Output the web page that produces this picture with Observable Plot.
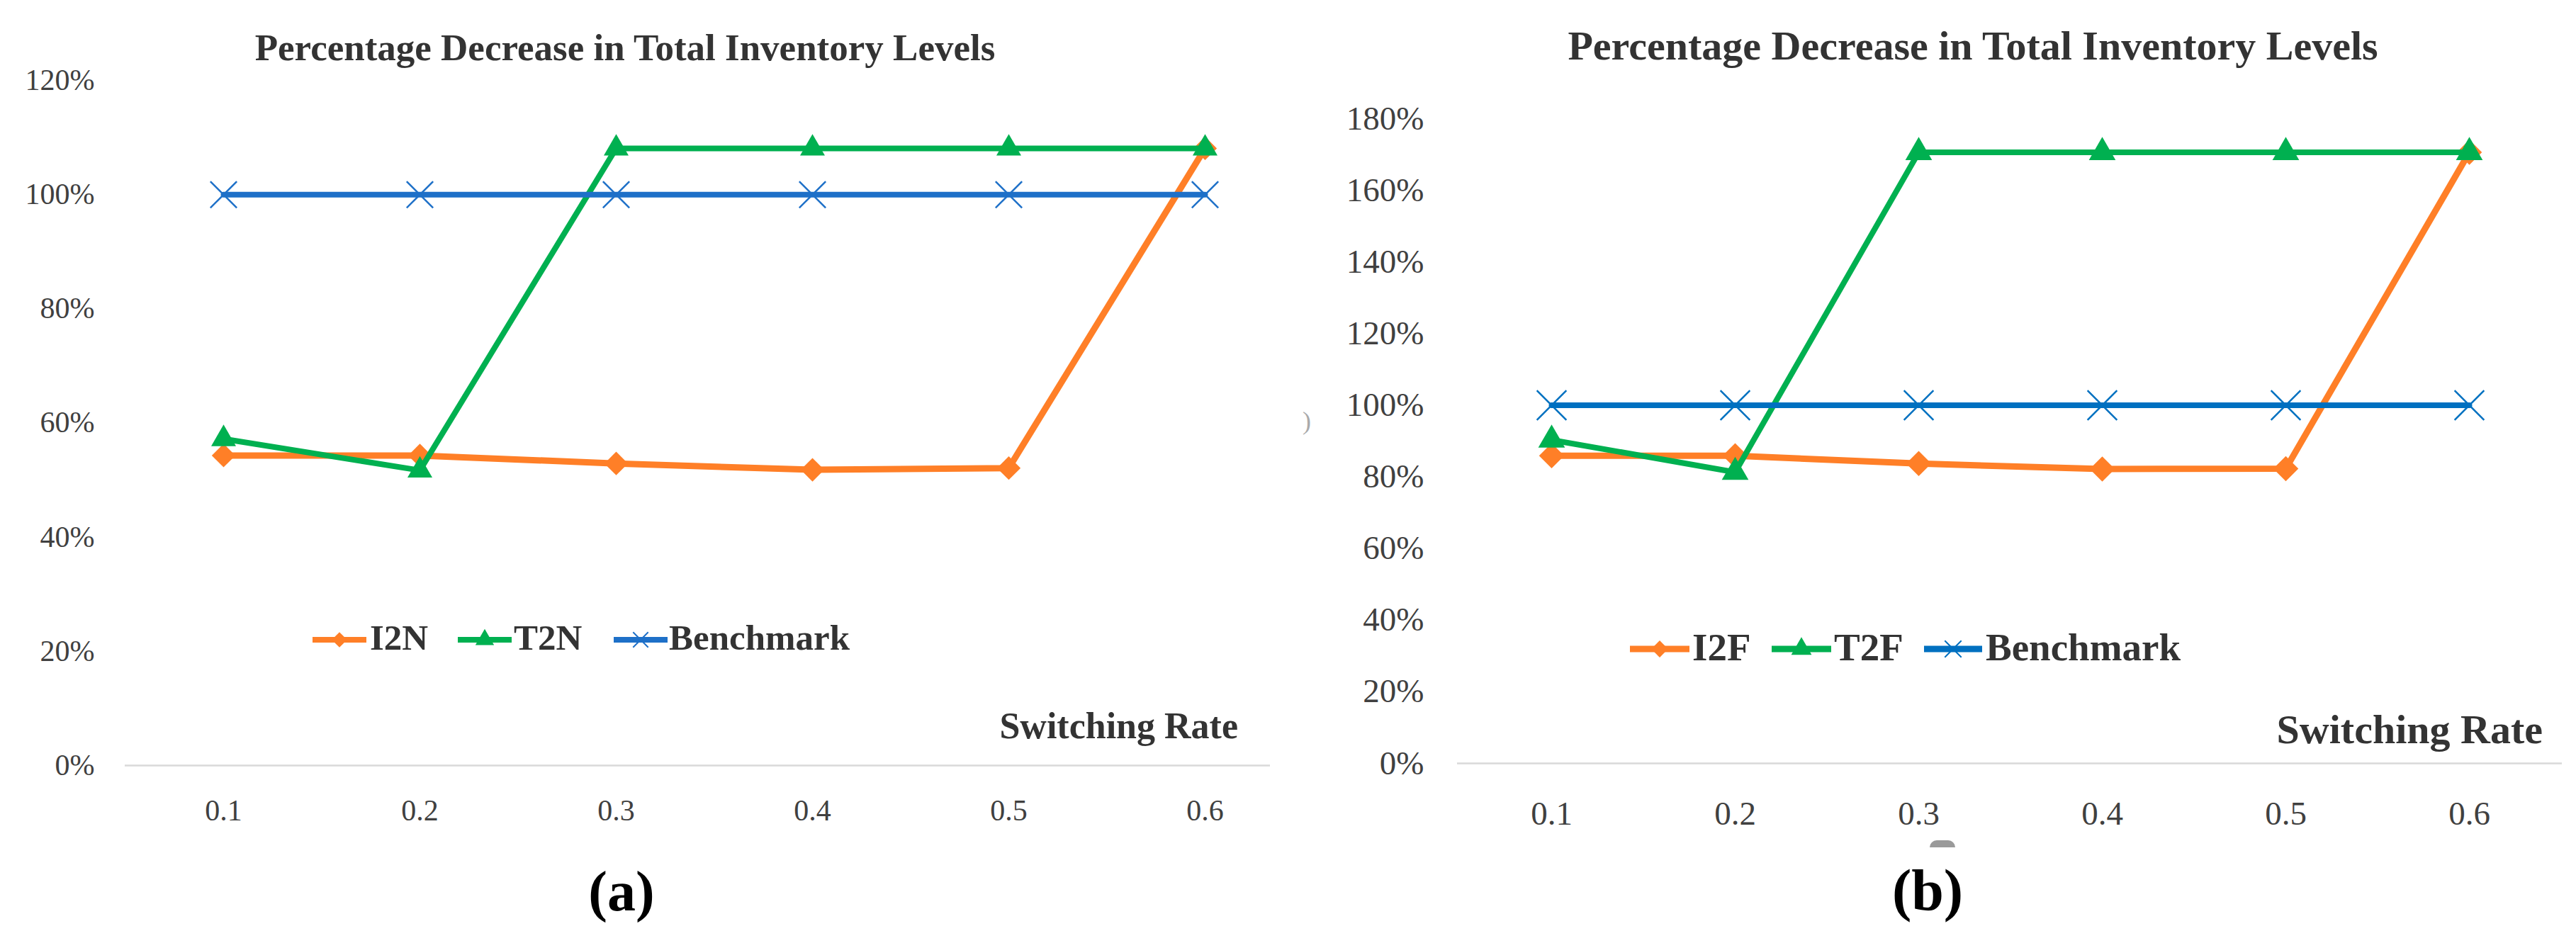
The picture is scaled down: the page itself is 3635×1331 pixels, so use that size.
<!DOCTYPE html>
<html><head><meta charset="utf-8">
<script src="https://cdn.jsdelivr.net/npm/d3@7"></script>
<script src="https://cdn.jsdelivr.net/npm/@observablehq/plot@0.6"></script>
<style>
html,body{margin:0;padding:0;background:#fff;}
#root{position:relative;width:3635px;height:1331px;overflow:hidden;font-family:"Liberation Serif",serif;background:#fff;}
.abs{position:absolute;white-space:nowrap;line-height:1;}
.panel{position:absolute;top:0;}
</style></head><body><div id="root"></div>
<script>
// ---------- data ----------
const rates = ["0.1","0.2","0.3","0.4","0.5","0.6"];
const i2n = [0.543,0.543,0.529,0.518,0.521,1.081];
const t2n = [0.572,0.517,1.081,1.081,1.081,1.081];
const benchA = [1,1,1,1,1,1];
const i2f = [0.859,0.859,0.837,0.822,0.823,1.706];
const t2f = [0.903,0.813,1.706,1.706,1.706,1.706];
const benchB = [1,1,1,1,1,1];
const yTicksA = [0,0.2,0.4,0.6,0.8,1.0,1.2];
const yTicksB = [0,0.2,0.4,0.6,0.8,1.0,1.2,1.4,1.6,1.8];
const seriesA = ["I2N","T2N","Benchmark"];
const seriesB = ["I2F","T2F","Benchmark"];
const titleText = "Percentage Decrease in Total Inventory Levels";
const xLabel = "Switching Rate";
const panelLabels = ["(a)","(b)"];

// ---------- styles ----------
const ORANGE = "#FF7F27", GREEN = "#00B050";
const symbols = ["diamond2","triangle","times"];
const d3symbols = [d3.symbolDiamond2, d3.symbolTriangle, d3.symbolTimes];

const root = document.getElementById("root");

function addText(txt, opts){
  const d = document.createElement("div");
  d.className = "abs";
  d.textContent = txt;
  const fs = opts.size;
  d.style.fontSize = fs + "px";
  d.style.fontWeight = opts.bold ? "bold" : "normal";
  d.style.color = opts.color || "#333";
  d.style.top = (opts.baseline - 0.8375*fs) + "px";
  if (opts.anchor === "middle") { d.style.left = (opts.x - 1500) + "px"; d.style.width = "3000px"; d.style.textAlign = "center"; }
  else if (opts.anchor === "end") { d.style.left = (opts.x - 3000) + "px"; d.style.width = "3000px"; d.style.textAlign = "right"; }
  else d.style.left = opts.x + "px";
  root.appendChild(d);
  return d;
}

function legendSwatch(x1, x2, cy, color, k, area, lw){
  const w = x2 - x1, h = 60;
  const svg = d3.create("svg").attr("width", w).attr("height", h)
    .style("position","absolute").style("left", x1+"px").style("top", (cy-h/2)+"px").style("overflow","visible");
  svg.append("line").attr("x1",0).attr("x2",w).attr("y1",h/2).attr("y2",h/2)
    .attr("stroke",color).attr("stroke-width",lw);
  const p = svg.append("path").attr("transform",`translate(${w/2},${h/2})`)
    .attr("d", d3.symbol(d3symbols[k], area)());
  if (k === 2) p.attr("fill","none").attr("stroke",color).attr("stroke-width",2);
  else p.attr("fill",color);
  root.appendChild(svg.node());
}

function panel(cfg){
  const rows = [];
  cfg.series.forEach((s,k)=> cfg.values[k].forEach((v,i)=> rows.push({series:s, rate:rates[i], value:v})));
  const marks = [
    Plot.ruleY([0], {stroke:"#d9d9d9", strokeWidth:2.5}),
    Plot.axisY({ticks: cfg.yTicks, tickFormat: d3.format(".0%"), tickSize:0, tickPadding: cfg.yPad,
      fontSize: cfg.tickFont, fill:"#404040", label:null}),
    Plot.axisX({tickSize:0, tickPadding: cfg.xPad, fontSize: cfg.tickFont, fill:"#404040", label:null})
  ];
  cfg.series.forEach((s,k)=>{
    const d = rows.filter(r=>r.series===s);
    marks.push(Plot.line(d,{x:"rate", y:"value", stroke:cfg.colors[k], strokeWidth:cfg.lineW[k]}));
    marks.push(Plot.dot(d,{x:"rate", y:"value", symbol:symbols[k], r:cfg.r[k],
      fill: k===2 ? "none" : cfg.colors[k], stroke: k===2 ? cfg.colors[k] : "none", strokeWidth: k===2 ? 2.5 : 0}));
  });
  const chart = Plot.plot({
    width: cfg.width, height: cfg.height,
    marginLeft: cfg.mL, marginRight: cfg.mR, marginTop: cfg.mT, marginBottom: cfg.mB,
    x: {type:"point", domain: rates, range: cfg.xRange, padding: 0},
    y: {domain: [0, cfg.yMax]},
    style: {fontFamily: "Liberation Serif", background: "transparent", overflow: "visible"},
    marks
  });
  const wrap = document.createElement("div");
  wrap.className = "panel";
  wrap.style.left = cfg.left + "px";
  wrap.style.width = cfg.width + "px";
  wrap.appendChild(chart);
  root.appendChild(wrap);
}

// Panel (a)
panel({
  left: 0, width: 1818, height: 1200, mL: 176, mR: 26, mT: 113, mB: 120,
  xRange: [315, 1700], yMax: 1.2, yTicks: yTicksA, yPad: 43, xPad: 48, tickFont: 42,
  series: seriesA, values: [i2n, t2n, benchA],
  colors: [ORANGE, GREEN, "#1E70C8"], lineW: [9, 8, 8], r: [15, 13, 17]
});
// Panel (b)
panel({
  left: 1818, width: 1817, height: 1200, mL: 238, mR: 20, mT: 167, mB: 123,
  xRange: [370, 1667], yMax: 1.8, yTicks: yTicksB, yPad: 47, xPad: 53, tickFont: 47,
  series: seriesB, values: [i2f, t2f, benchB],
  colors: [ORANGE, GREEN, "#0070C0"], lineW: [9, 8, 8], r: [16, 14, 19]
});

// Titles
addText(titleText, {x: 882, baseline: 85, size: 53, bold: true, anchor: "middle", color: "#333"});
addText(titleText, {x: 2784, baseline: 85, size: 58, bold: true, anchor: "middle", color: "#333"});
// Axis titles
addText(xLabel, {x: 1747, baseline: 1043, size: 52, bold: true, anchor: "end", color: "#333"});
addText(xLabel, {x: 3588, baseline: 1050, size: 58, bold: true, anchor: "end", color: "#333"});

// Legends
const legA = [[441,517,522],[646,722,725],[866,942,944]];
const colA = [ORANGE, GREEN, "#1E70C8"];
seriesA.forEach((s,k)=>{
  legendSwatch(legA[k][0], legA[k][1], 903, colA[k], k, 300, 8);
  addText(s, {x: legA[k][2], baseline: 918, size: 51, bold: true, color: "#333"});
});
const legB = [[2300,2384,2388],[2500,2584,2588],[2715,2797,2802]];
const colB = [ORANGE, GREEN, "#0070C0"];
seriesB.forEach((s,k)=>{
  legendSwatch(legB[k][0], legB[k][1], 916, colB[k], k, 360, 9);
  addText(s, {x: legB[k][2], baseline: 932, size: 55, bold: true, color: "#333"});
});

// Panel labels
addText(panelLabels[0], {x: 877, baseline: 1285, size: 80, bold: true, anchor: "middle", color: "#000"});
addText(panelLabels[1], {x: 2720, baseline: 1285, size: 82, bold: true, anchor: "middle", color: "#000"});

// small grey scan artefacts present in the source image
addText(")", {x: 1838, baseline: 606, size: 36, color: "#aaa"});
const arc = document.createElement("div");
arc.style.cssText = "position:absolute;left:2723px;top:1186px;width:36px;height:10px;background:#9a9a9a;border-radius:18px 18px 0 0;";
root.appendChild(arc);
</script></body></html>
